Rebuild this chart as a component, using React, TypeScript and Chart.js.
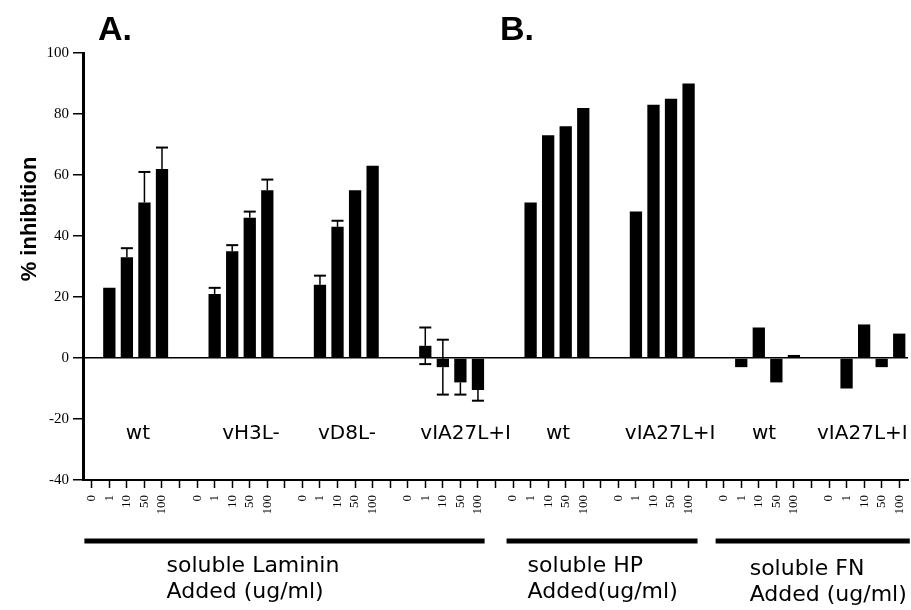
import React, { useEffect, useRef } from "react";
import { Chart, registerables } from "chart.js";

Chart.register(...registerables);

// ---------- data ----------
const concentrations = ["0", "1", "10", "50", "100"];
const groupNames = ["wt", "vH3L-", "vD8L-", "vIA27L+I", "wt", "vIA27L+I", "wt", "vIA27L+I"];

const lamininWt = [0, 23, 33, 51, 62];
const lamininVH3L = [0, 21, 35, 46, 55];
const lamininVD8L = [0, 24, 43, 55, 63];
const lamininVIA27L = [0, 4, -3, -8, -10.5];
const hpWt = [0, 51, 73, 76, 82];
const hpVIA27L = [0, 48, 83, 85, 90];
const fnWt = [0, -3, 10, -8, 1];
const fnVIA27L = [0, -10, 11, -3, 8];

const lamininWtErrUp = [0, 0, 3, 10, 7];
const lamininVH3LErrUp = [0, 2, 2, 2, 3.5];
const lamininVD8LErrUp = [0, 3, 2, 0, 0];
const lamininVIA27LErrUp = [0, 6, 9, 0, 0];
const lamininVIA27LErrDown = [0, 6, 9, 4, 3.5];
const noErr = [0, 0, 0, 0, 0];

const yMin = -40;
const yMax = 100;
const yStep = 20;

const panelTitles = ["A.", "B."];
const yAxisTitle = "% inhibition";
const additionLines = [
  ["soluble Laminin", "Added (ug/ml)"],
  ["soluble HP", "Added(ug/ml)"],
  ["soluble FN", "Added (ug/ml)"],
];

const groupValues = [lamininWt, lamininVH3L, lamininVD8L, lamininVIA27L, hpWt, hpVIA27L, fnWt, fnVIA27L];
const groupErrUp = [lamininWtErrUp, lamininVH3LErrUp, lamininVD8LErrUp, lamininVIA27LErrUp, noErr, noErr, noErr, noErr];
const groupErrDown = [noErr, noErr, noErr, lamininVIA27LErrDown, noErr, noErr, noErr, noErr];

// ---------- layout (category-slot positions of annotations) ----------
const groupLabelSlot = [2.63, 9.07, 14.54, 21.3, 26.56, 32.95, 38.3, 43.9];
const groupLabelValue = -24.7;
const bracketSlots = [
  [-0.42, 22.38],
  [23.63, 34.51],
  [35.54, 46.6],
];
const additionTextSlot = [4.26, 24.83, 37.48];
const additionTextDy = [0, 0, 3];
const panelTitleX = [98, 500];

// build the flat table
const labels: string[] = [];
const values: (number | null)[] = [];
const errUp: number[] = [];
const errDown: number[] = [];
groupValues.forEach((g, gi) => {
  g.forEach((v, i) => {
    labels.push(concentrations[i]);
    values.push(v);
    errUp.push(groupErrUp[gi][i]);
    errDown.push(groupErrDown[gi][i]);
  });
  if (gi < groupValues.length - 1) {
    labels.push("");
    values.push(null);
    errUp.push(0);
    errDown.push(0);
  }
});

const errorBarPlugin = {
  id: "errorBars",
  afterDatasetsDraw(chart: any) {
    const ctx = chart.ctx;
    const meta = chart.getDatasetMeta(0);
    const y = chart.scales.y;
    ctx.save();
    ctx.strokeStyle = "#000";
    values.forEach((v, i) => {
      if (v === null) return;
      const el = meta.data[i];
      if (!el) return;
      const x = el.x;
      const draw = (to: number) => {
        const y0 = y.getPixelForValue(v);
        const y1 = y.getPixelForValue(to);
        ctx.lineWidth = 1.5;
        ctx.beginPath();
        ctx.moveTo(x, y0);
        ctx.lineTo(x, y1);
        ctx.stroke();
        ctx.lineWidth = 2;
        ctx.beginPath();
        ctx.moveTo(x - 6, y1);
        ctx.lineTo(x + 6, y1);
        ctx.stroke();
      };
      if (errUp[i] > 0) draw(v + errUp[i]);
      if (errDown[i] > 0) draw(v - errDown[i]);
    });
    ctx.restore();
  },
};

const annotationPlugin = {
  id: "annotations",
  afterDraw(chart: any) {
    const ctx = chart.ctx;
    const xs = chart.scales.x;
    const ys = chart.scales.y;
    const area = chart.chartArea;
    ctx.save();
    ctx.fillStyle = "#000";

    // panel titles
    ctx.font = "bold 34px 'Liberation Sans', Arial, sans-serif";
    ctx.textAlign = "left";
    ctx.textBaseline = "alphabetic";
    panelTitles.forEach((t, i) => ctx.fillText(t, panelTitleX[i], 40));

    // y title
    ctx.save();
    ctx.translate(30, 219);
    ctx.rotate(-Math.PI / 2);
    ctx.font = "bold 22px 'Liberation Sans', Arial, sans-serif";
    ctx.textAlign = "center";
    ctx.textBaseline = "middle";
    ctx.fillText(yAxisTitle, 0, 0);
    ctx.restore();

    // group labels
    ctx.font = "20px 'DejaVu Sans', Verdana, sans-serif";
    ctx.textAlign = "center";
    ctx.textBaseline = "middle";
    groupNames.forEach((n, i) => {
      ctx.fillText(n, xs.getPixelForValue(groupLabelSlot[i]), ys.getPixelForValue(groupLabelValue));
    });

    // brackets
    ctx.lineWidth = 5;
    ctx.strokeStyle = "#000";
    bracketSlots.forEach(([a, b]) => {
      ctx.beginPath();
      ctx.moveTo(xs.getPixelForValue(a), area.bottom + 61);
      ctx.lineTo(xs.getPixelForValue(b), area.bottom + 61);
      ctx.stroke();
    });

    // addition text
    ctx.font = "22px 'DejaVu Sans', Verdana, sans-serif";
    ctx.textAlign = "left";
    ctx.textBaseline = "middle";
    additionLines.forEach((lines, i) => {
      const x = xs.getPixelForValue(additionTextSlot[i]);
      lines.forEach((l, j) => {
        ctx.fillText(l, x, area.bottom + 86 + j * 26 + additionTextDy[i]);
      });
    });
    ctx.restore();
  },
};

export default function App() {
  const ref = useRef<HTMLCanvasElement>(null);
  useEffect(() => {
    if (!ref.current) return;
    const chart = new Chart(ref.current, {
      type: "bar",
      data: {
        labels,
        datasets: [
          {
            data: values,
            backgroundColor: "#000",
            borderWidth: 0,
            barPercentage: 0.7,
            categoryPercentage: 1,
          },
        ],
      },
      options: {
        animation: false,
        responsive: false,
        devicePixelRatio: 1,
        layout: { padding: { top: 53, left: 0, right: 3, bottom: 0 } },
        plugins: { legend: { display: false }, tooltip: { enabled: false }, title: { display: false } },
        scales: {
          x: {
            type: "category",
            offset: true,
            grid: {
              offset: false,
              drawOnChartArea: false,
              drawTicks: true,
              tickLength: 8,
              tickColor: "#000",
              tickWidth: 1.5,
            },
            border: { display: true, color: "#000", width: 2 },
            ticks: {
              autoSkip: false,
              minRotation: 90,
              maxRotation: 90,
              padding: 7,
              color: "#000",
              font: { family: "'Liberation Serif', serif", size: 13 },
            },
            afterFit: (s: any) => {
              s.height = 130;
              s.paddingLeft = 0;
              s.paddingRight = 0;
            },
          },
          y: {
            min: yMin,
            max: yMax,
            ticks: {
              stepSize: yStep,
              padding: 4,
              color: "#000",
              font: { family: "'Liberation Serif', serif", size: 15 },
            },
            grid: {
              color: (c: any) => (c.tick && c.tick.value === 0 ? "#000" : "rgba(0,0,0,0)"),
              lineWidth: 1.5,
              drawTicks: true,
              tickLength: 10,
              tickColor: "#000",
              tickWidth: 1.5,
            },
            border: { display: true, color: "#000", width: 3 },
            afterFit: (s: any) => {
              s.width = 83;
            },
          },
        },
      },
      plugins: [errorBarPlugin, annotationPlugin],
    } as any);
    return () => chart.destroy();
  }, []);
  return (
    <div style={{ position: "absolute", left: 0, top: 0, width: 911, height: 610, background: "#fff" }}>
      <canvas ref={ref} width={911} height={610} style={{ display: "block" }} />
    </div>
  );
}
